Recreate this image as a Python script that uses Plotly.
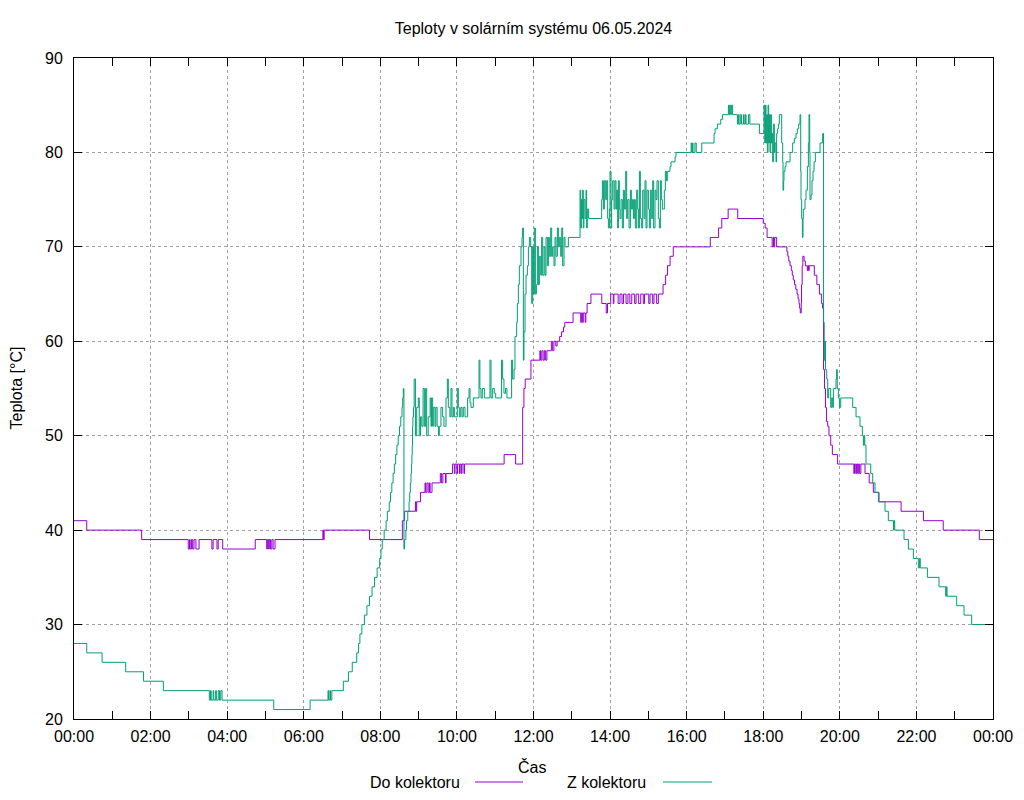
import pandas as pd
import plotly.graph_objects as go

# ---- data (minutes after midnight, temperature in °C) ----
do_minutes = [0, 20, 106, 179, 181, 182, 184, 186, 188, 191, 196, 216, 218, 224, 226, 233, 284, 302, 303, 305,
              306, 308, 310, 312, 315, 390, 391, 392, 463, 514.5, 518, 535, 536, 537, 543, 550, 551, 553, 555,
              557, 558, 561, 574, 576, 578, 582, 583, 593, 596, 597, 600, 601, 604, 605, 607, 608, 611, 612,
              674, 692, 703, 705, 707, 716, 730, 731, 733, 735, 737, 739, 741, 748, 750, 752, 755, 757, 761,
              764, 767, 769, 782, 794, 795, 797, 798, 801, 802, 804, 810, 827, 834, 836, 841, 845, 846, 852.6,
              855.5, 858.7, 861, 865, 868, 871, 874, 878.5, 880.7, 884.8, 888, 892, 894, 900.6, 902.6, 906.7,
              908.8, 913, 915.6, 923, 927, 930, 934, 939, 997, 1010, 1015, 1025, 1040, 1080, 1083, 1086, 1094,
              1096, 1097, 1098, 1101, 1117, 1118.5, 1120, 1122, 1124, 1125.5, 1127, 1129, 1131, 1133, 1134.5,
              1136, 1137, 1138, 1139.5, 1140, 1141, 1142, 1144, 1146, 1149, 1150, 1151, 1152, 1160, 1164, 1168,
              1171.5, 1173, 1174.5, 1176, 1177.5, 1179, 1181, 1183, 1185.7, 1188.3, 1196.5, 1222, 1223, 1225,
              1226, 1228, 1229, 1231, 1233, 1239.5, 1246, 1252.5, 1261.4, 1296, 1331, 1362, 1418.6, 1440]
do_temp = [41, 40, 39, 38, 39, 38, 39, 38, 39, 38, 39, 38, 39, 38, 39, 38, 39, 38, 39, 38,
           39, 38, 39, 38, 39, 40, 39, 40, 39, 41, 42, 43, 42, 43, 44, 45, 44, 45, 44,
           45, 44, 45, 46, 45, 46, 45, 46, 47, 46, 47, 46, 47, 46, 47, 46, 47, 46, 47,
           48, 47, 53, 55, 56, 58, 59, 58, 59, 58, 59, 58, 59, 60, 59, 60, 59.5, 60, 60.5,
           61, 61.5, 62, 63, 62, 63, 62, 63, 62, 63, 64, 65, 64, 63, 64, 65, 64, 65, 64,
           65, 64, 65, 64, 65, 64, 65, 64, 65, 64, 65, 64, 65, 64, 65, 64,
           65, 64, 65, 66, 67, 68, 69, 70, 71, 72, 73, 74, 73, 72.5, 72, 71, 70,
           71, 70, 71, 70, 69.5, 69, 68.5, 68, 67.5, 67, 66.5, 66, 65.5, 65, 64.5,
           64, 63.5, 63, 64, 66, 68, 69, 68.5, 68, 67.5, 68, 67.5, 68, 67, 66, 65,
           64, 63.5, 57, 55, 53, 51.5, 51, 50, 49, 48, 47, 46, 47, 46,
           47, 46, 47, 46, 47, 46, 45, 44, 43, 42, 41, 40, 39, 39]

z_minutes = [0, 20, 44, 81, 109, 140, 212, 214, 215, 218, 219, 222, 223, 226, 228, 230, 232, 313, 370, 398,
             399, 401, 402, 404, 422, 430, 436, 443, 446, 448, 451, 455, 459, 463, 467, 471, 475, 479, 481,
             483, 486, 489, 491, 494, 496, 498, 500, 502, 504, 506, 508, 510, 512, 514, 515, 516, 517, 518,
             520, 521, 523, 525, 526, 527, 528, 529, 529.5, 530, 530.5, 531, 532, 533, 535, 537, 539.5, 541,
             543, 545, 547, 549, 551, 552.6, 555, 558, 559.4, 560.4, 562, 563, 565.6, 567, 569, 571, 572.4,
             575, 577.7, 579.7, 582.9, 585, 586.5, 589, 590.7, 592.3, 594.4, 596, 600.6, 602.2, 603.8, 606,
             608, 610, 612.7, 616.8, 619, 620.5, 622, 625.7, 634.6, 636, 637.7, 639.8, 643, 651.8, 653.4, 656,
             658.6, 660.7, 670, 671.6, 673.7, 676.3, 678.4, 685.7, 687.3, 689.5, 691, 693.6, 694.7, 696.3,
             697.8, 700.4, 702, 703, 704.1, 705.1, 706.7, 708.3, 710.4, 712, 713.5, 715.6, 717.2, 718.7,
             719.8, 721.3, 722.9, 724.5, 726, 727.6, 729.2, 731.3, 732.8, 734.4, 736.5, 738, 739.6, 741.7,
             743.3, 744.8, 746.9, 748.5, 750, 752.1, 753.7, 755.3, 757.4, 758.9, 760.5, 762.6, 764.2, 765.7,
             767.8, 769.4, 774.6, 792.9, 794, 795, 796, 797, 798, 799, 800.7, 802.3, 803.3, 804.3, 806.4,
             826.8, 827.9, 829.5, 831, 833.1, 834.7, 836.2, 837.3, 838.9, 839.9, 841.5, 842.5, 844.1, 846.2,
             847.7, 849.3, 850.4, 851.9, 853, 854.5, 855.6, 857.1, 859.2, 860.8, 862.4, 864.5, 866, 867.6,
             869.7, 871.8, 873.3, 874.9, 876.5, 878, 879.6, 881.7, 883.3, 884.3, 885.9, 887.4, 889.5, 891.1,
             893.2, 894.7, 896.3, 897.9, 900, 901.5, 903.1, 905.2, 906.8, 908.3, 910.4, 912, 913.5, 915.6,
             917.2, 918.8, 920.3, 921.9, 925, 926.6, 928.2, 929.7, 933.9, 935.5, 941.8, 943.3, 967, 968, 969,
             970, 973, 975, 983.6, 1002.9, 1004.5, 1008.1, 1013.4, 1016, 1025.4, 1026.5, 1027.5, 1029, 1030,
             1032, 1039.5, 1041, 1042, 1044, 1046, 1049, 1050, 1052, 1053, 1057, 1059, 1074, 1081.2, 1082.3,
             1083.3, 1084.3, 1085.4, 1086.4, 1087.5, 1088.5, 1089.6, 1090.6, 1091.7, 1092.7, 1093.7, 1094.8,
             1095.8, 1097.4, 1098.4, 1100, 1101, 1102.6, 1103.7, 1105.2, 1108.9, 1110.5, 1111, 1112, 1112.5,
             1114.1, 1115.7, 1122, 1126.1, 1128.7, 1131.3, 1133.4, 1135.5, 1137.6, 1138.7, 1139.2, 1140.2,
             1141.3, 1142.3, 1142.8, 1145.4, 1147, 1149.1, 1150.7, 1151.7, 1152.8, 1153.3, 1154.9, 1156.4,
             1158, 1159.6, 1161.6, 1169, 1173.1, 1174.5, 1175.5, 1176.5, 1177.5, 1179.4, 1181, 1182.5, 1185.7,
             1187.3, 1188.8, 1189.9, 1194, 1195, 1196, 1197.7, 1199.3, 1201.4, 1220.2, 1225.4, 1231.6, 1235.3,
             1236.9, 1238, 1239, 1241, 1248.4, 1251.5, 1255.2, 1260.4, 1270.8, 1276, 1284, 1285, 1286, 1300.6,
             1307.4, 1315.2, 1323, 1325, 1326, 1337.2, 1355.4, 1365.9, 1367, 1368, 1383.1, 1394.6, 1406.6, 1440]
z_temp = [28, 27, 26, 25, 24, 23, 22, 23, 22, 23, 22, 23, 22, 23, 22, 23, 22, 21, 22, 23,
          22, 23, 22, 23, 24, 25, 26, 27, 28, 29, 30, 31, 32, 33, 34, 35, 36, 37, 38,
          39, 40, 41, 42, 43, 44, 45, 46, 47, 48, 49, 50, 51, 52, 53, 54, 55, 38, 39,
          40, 41, 42, 43, 44, 45, 46, 47, 48, 49, 51, 52, 53, 56, 50, 53, 54, 50,
          52, 51, 55, 51, 55, 50, 52, 54, 51, 54, 51, 53, 51, 53, 51, 50, 51,
          53, 52, 51, 54, 56, 53, 52, 55, 52, 53, 52, 55, 53, 52, 53,
          52, 53, 52, 54, 55, 53.5, 53, 54, 58, 55, 54, 55, 54, 58, 54, 55,
          54.5, 54, 58, 56, 54.5, 55, 54, 58, 56, 57, 60.5, 62, 64, 66,
          68, 70, 71, 72, 58, 61, 65, 67, 68, 70, 71, 70, 64, 70,
          65, 72, 65, 66, 70, 66, 69, 67, 71, 67, 70, 67, 71, 68,
          71, 69, 72, 69, 70, 68, 71, 69, 72, 70, 71, 69, 72, 68,
          71, 70, 71, 76, 72, 75, 73, 76, 72, 75, 73, 76, 72, 74, 73,
          75, 77, 74, 77, 75, 77, 73, 72, 74, 78, 72, 75, 77, 74,
          77, 74, 76, 72, 77, 74, 73, 75, 72, 76, 74, 78, 73, 75,
          72, 76, 74, 75, 73, 75, 72, 76, 74, 72, 78, 73, 72, 76,
          73, 77, 72, 76, 74, 72, 76, 73, 77, 72, 76, 75, 77, 73,
          72, 77, 75, 74, 76, 78, 77, 78, 78.5, 79, 79.5, 80, 81, 80, 81,
          80, 81, 80, 81, 82, 82.5, 83, 83.5, 84, 85, 84, 85, 84, 85,
          84, 83, 84, 83, 84, 83, 84, 83, 84, 83, 84, 83, 82, 85, 81,
          85, 81, 84, 80, 85, 81, 84, 80, 84, 81, 82, 79,
          83, 80, 81, 79, 82, 82.5, 83, 84, 81, 79, 76, 77, 78,
          78.5, 79, 80, 81, 81.5, 82, 82.5, 83, 84, 78, 75, 73,
          71, 73, 74, 75, 76, 78.5, 81, 84, 80, 75, 75.5, 77,
          78, 79, 80, 81, 82, 62, 58, 60, 57, 56, 54, 55, 53,
          54, 53, 55, 56, 57, 55, 54, 53, 54, 53, 52, 51, 50,
          49, 50, 49, 47, 46, 45, 44, 43, 42, 41, 40, 41, 40, 39,
          38, 37, 36, 37, 36, 35, 34, 33, 34, 33, 32, 31, 30, 30]

x_tick_labels = ["00:00", "02:00", "04:00", "06:00", "08:00", "10:00", "12:00",
                 "14:00", "16:00", "18:00", "20:00", "22:00", "00:00"]
y_ticks = [20, 30, 40, 50, 60, 70, 80, 90]

base = pd.Timestamp("2024-05-06")


def to_dt(mins):
    return [base + pd.Timedelta(minutes=m) for m in mins]


FONT = "Liberation Sans, Arial, sans-serif"
PURPLE = "#9400d3"
GREEN = "#009e73"

fig = go.Figure()
fig.add_trace(go.Scatter(x=to_dt(do_minutes), y=do_temp, mode="lines", name="Do kolektoru",
                         line=dict(color=PURPLE, width=1, shape="hv"), showlegend=False))
fig.add_trace(go.Scatter(x=to_dt(z_minutes), y=z_temp, mode="lines", name="Z kolektoru",
                         line=dict(color=GREEN, width=1, shape="hv"), showlegend=False))

tickvals = [base + pd.Timedelta(hours=2 * i) for i in range(13)]

# page body adds an 8px offset, so margins are shifted accordingly
fig.update_layout(
    width=1024, height=800,
    margin=dict(l=66, r=39, t=50, b=89),
    paper_bgcolor="white", plot_bgcolor="white",
    font=dict(family=FONT, size=16, color="black"),
    title=dict(text="Teploty v solárním systému 06.05.2024", x=0.5, xref="paper",
               y=1 - 20 / 800, yref="container", yanchor="middle",
               font=dict(family=FONT, size=16, color="black")),
    xaxis=dict(type="date", range=[base, base + pd.Timedelta(days=1)],
               tickmode="array", tickvals=tickvals, ticktext=x_tick_labels,
               ticks="inside", ticklen=8, tickcolor="black", tickwidth=1,
               showline=True, linecolor="black", linewidth=1, mirror="ticks",
               showgrid=True, gridcolor="#a0a0a0", griddash="dot", gridwidth=1,
               minor=dict(dtick=3600000, tick0=base, ticks="inside", ticklen=8,
                          tickcolor="black", showgrid=False),
               zeroline=False, ticklabelstandoff=3),
    yaxis=dict(range=[20, 90], tickvals=y_ticks,
               ticks="inside", ticklen=8, tickcolor="black", tickwidth=1,
               showline=True, linecolor="black", linewidth=1, mirror="ticks",
               showgrid=True, gridcolor="#a0a0a0", griddash="dot", gridwidth=1,
               zeroline=False, ticklabelstandoff=7),
)

ann = [
    dict(text="Teplota [°C]", x=(16 - 74) / 919, y=0.5, xref="paper", yref="paper",
         textangle=-90, showarrow=False, xanchor="center", yanchor="middle"),
    dict(text="Čas", x=(532 - 74) / 919, y=(719 - 767) / 661, xref="paper", yref="paper",
         showarrow=False, xanchor="center", yanchor="middle"),
    dict(text="Do kolektoru", x=(462 - 74) / 919, y=(719 - 782) / 661, xref="paper", yref="paper",
         showarrow=False, xanchor="right", yanchor="middle"),
    dict(text="Z kolektoru", x=(648 - 74) / 919, y=(719 - 782) / 661, xref="paper", yref="paper",
         showarrow=False, xanchor="right", yanchor="middle"),
]
fig.update_layout(annotations=ann)
ly = (719 - 782) / 661
fig.add_shape(type="line", xref="paper", yref="paper", x0=(475 - 74) / 919, x1=(523 - 74) / 919,
              y0=ly, y1=ly, line=dict(color=PURPLE, width=1))
fig.add_shape(type="line", xref="paper", yref="paper", x0=(663 - 74) / 919, x1=(712 - 74) / 919,
              y0=ly, y1=ly, line=dict(color=GREEN, width=1))

assert len(do_minutes) == len(do_temp), (len(do_minutes), len(do_temp))
assert len(z_minutes) == len(z_temp), (len(z_minutes), len(z_temp))

fig.write_html("out.html")
